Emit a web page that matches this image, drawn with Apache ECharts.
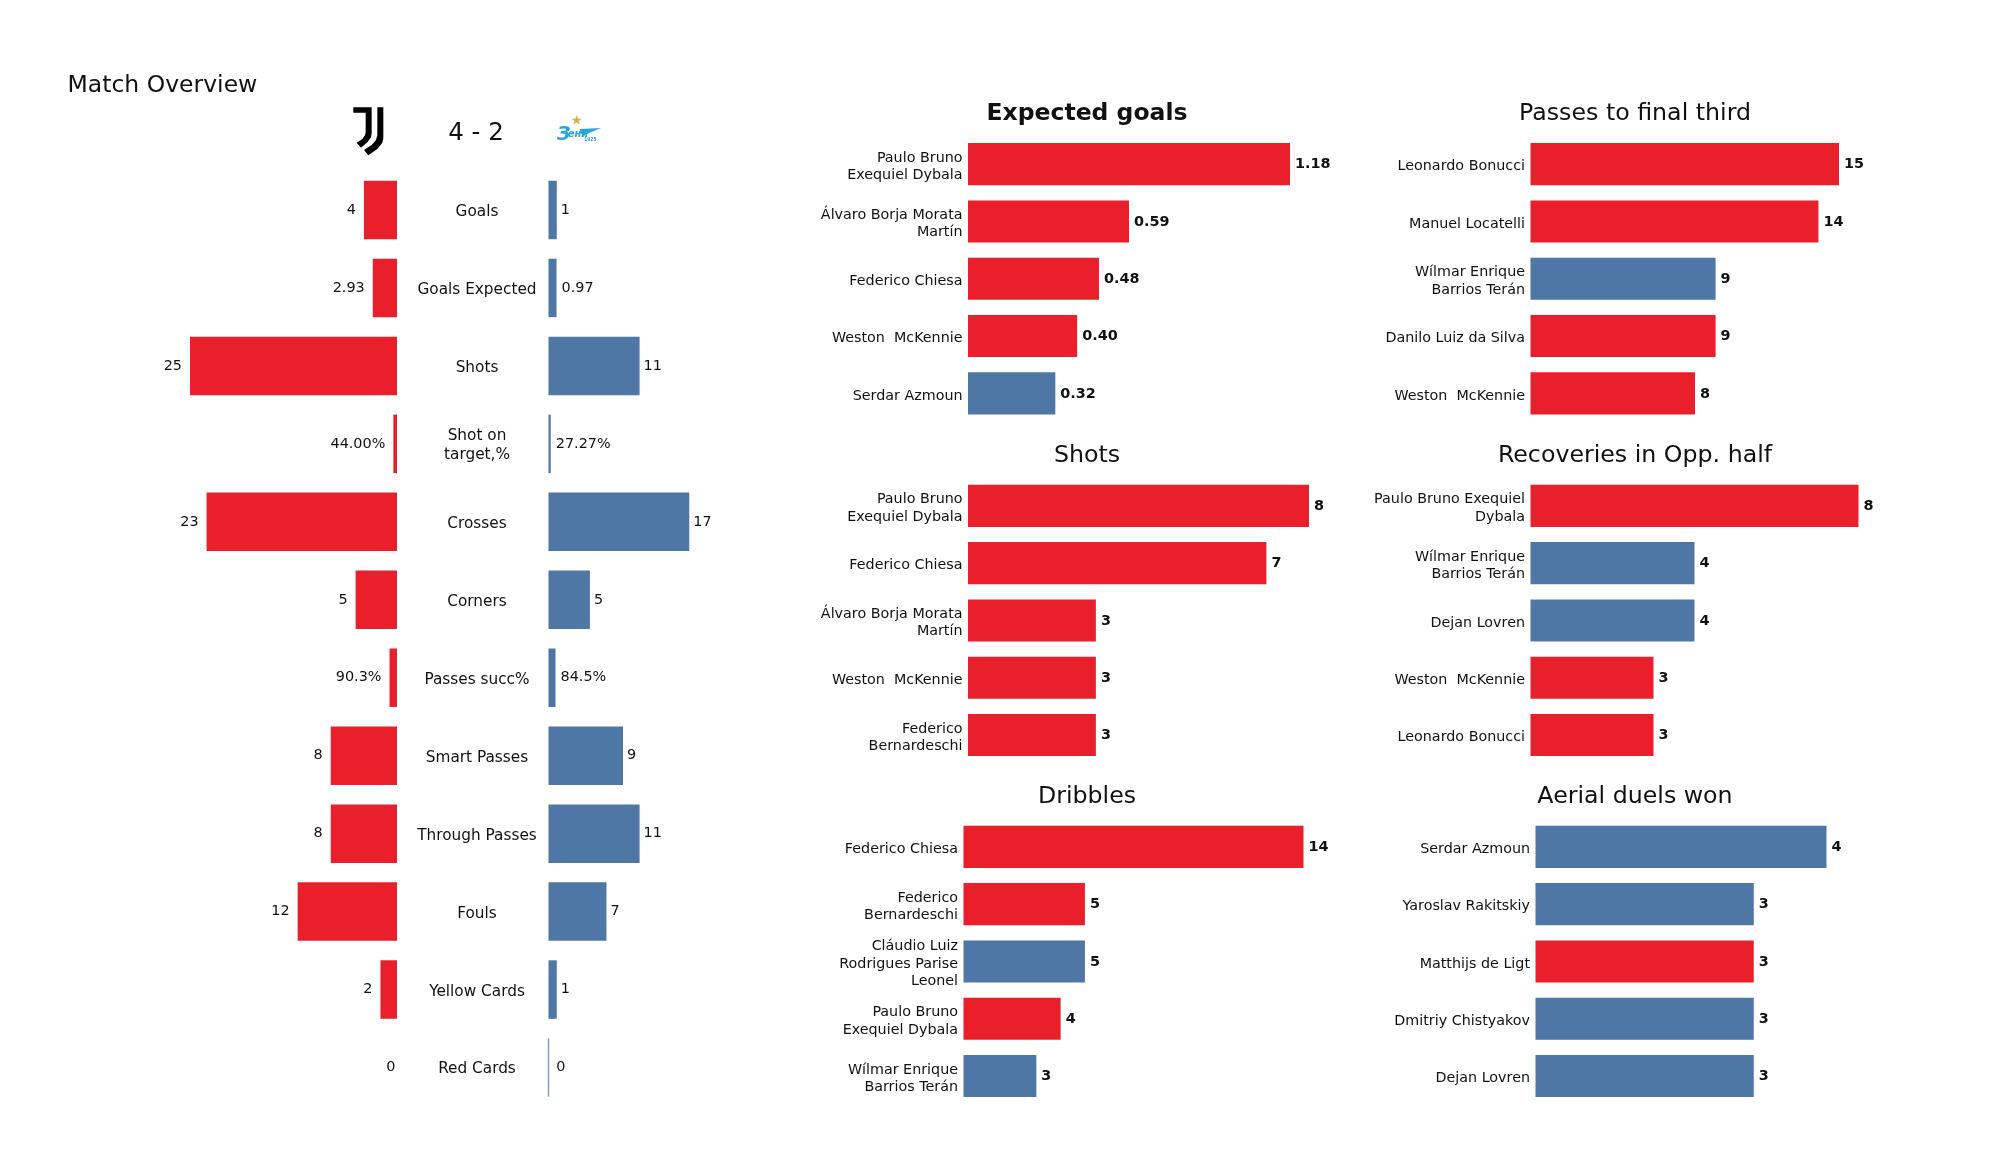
<!DOCTYPE html>
<html>
<head>
<meta charset="utf-8">
<style>html,body{margin:0;padding:0;background:#fff}#c{width:2000px;height:1175px}</style>
<script src="https://cdn.jsdelivr.net/npm/echarts@6/dist/echarts.min.js"></script>
</head>
<body>
<div id="c"></div>
<script>
const statLabels = ['Goals','Goals Expected','Shots','Shot on\ntarget,%','Crosses','Corners','Passes succ%','Smart Passes','Through Passes','Fouls','Yellow Cards','Red Cards'];
const juveValues = [4,2.93,25,0.44,23,5,0.903,8,8,12,2,0];
const zenitValues = [1,0.97,11,0.2727,17,5,0.845,9,11,7,1,0];
const juveText = ['4','2.93','25','44.00%','23','5','90.3%','8','8','12','2','0'];
const zenitText = ['1','0.97','11','27.27%','17','5','84.5%','9','11','7','1','0'];

const xgNames = ['Paulo Bruno\nExequiel Dybala','Álvaro Borja Morata\nMartín','Federico Chiesa','Weston  McKennie','Serdar Azmoun'];
const xgValues = [1.18,0.59,0.48,0.40,0.32];
const xgTeams = ['J','J','J','J','Z'];

const shotNames = ['Paulo Bruno\nExequiel Dybala','Federico Chiesa','Álvaro Borja Morata\nMartín','Weston  McKennie','Federico\nBernardeschi'];
const shotValues = [8,7,3,3,3];
const shotTeams = ['J','J','J','J','J'];

const dribbleNames = ['Federico Chiesa','Federico\nBernardeschi','Cláudio Luiz\nRodrigues Parise\nLeonel','Paulo Bruno\nExequiel Dybala','Wílmar Enrique\nBarrios Terán'];
const dribbleValues = [14,5,5,4,3];
const dribbleTeams = ['J','J','Z','J','Z'];

const passNames = ['Leonardo Bonucci','Manuel Locatelli','Wílmar Enrique\nBarrios Terán','Danilo Luiz da Silva','Weston  McKennie'];
const passValues = [15,14,9,9,8];
const passTeams = ['J','J','Z','J','J'];

const recoveryNames = ['Paulo Bruno Exequiel\nDybala','Wílmar Enrique\nBarrios Terán','Dejan Lovren','Weston  McKennie','Leonardo Bonucci'];
const recoveryValues = [8,4,4,3,3];
const recoveryTeams = ['J','Z','Z','J','J'];

const aerialNames = ['Serdar Azmoun','Yaroslav Rakitskiy','Matthijs de Ligt','Dmitriy Chistyakov','Dejan Lovren'];
const aerialValues = [4,3,3,3,3];
const aerialTeams = ['Z','Z','J','Z','Z'];

const RED = '#EA1F2C', BLUE = '#4E77A5', INK = '#111';
const FONT = '"DejaVu Sans"';
const colorOf = t => t === 'J' ? RED : BLUE;

const grids = [], xAxes = [], yAxes = [], series = [], titles = [];

function addGrid(box, maxV, inverse, cats, axisLabel) {
  const i = grids.length;
  grids.push(Object.assign({containLabel:false}, box));
  xAxes.push({gridIndex:i, type:'value', min:0, max:maxV, inverse:!!inverse, show:false});
  yAxes.push({gridIndex:i, type:'category', inverse:true, data:cats,
    axisLine:{show:false}, axisTick:{show:false}, splitLine:{show:false},
    axisLabel: axisLabel || {show:false}});
  return i;
}
// The category labels sit slightly below the bar centres, so they live on a
// second axis whose band is nudged down from the bars' one.
function addLabelAxis(box, cats, nudge, axisLabel) {
  const shifted = Object.assign({}, box, {top: box.top + nudge});
  addGrid(shifted, 1, false, cats, Object.assign({show:true}, axisLabel));
}

// Overview
const ovLeft = {left:190, top:171, width:207, height:935.5};
const ovRight = {left:548.5, top:171, width:207, height:935.5};
const iL = addGrid(ovLeft, 25, true, statLabels);
series.push({type:'bar', xAxisIndex:iL, yAxisIndex:iL, barWidth:'75%', silent:true,
  data: juveValues.map((v,k)=>({value:v, itemStyle:{color:RED},
    label:{show:true, position:'left', distance: v===0?1.5:8, offset:[0,0], formatter:juveText[k], color:INK, fontFamily:FONT, fontSize:14.4}}))});
const iR = addGrid(ovRight, 25, false, statLabels);
series.push({type:'bar', xAxisIndex:iR, yAxisIndex:iR, barWidth:'75%', silent:true,
  data: zenitValues.map((v,k)=>({value:v,
    itemStyle: v===0 ? {color:'#8A9DB8', borderColor:'#8A9DB8', borderWidth:1.5} : {color:BLUE},
    label:{show:true, position:'right', distance: v===0?7:(v<1?5:4), offset:[0,0], formatter:zenitText[k], color:INK, fontFamily:FONT, fontSize:14.4}}))});
addLabelAxis(ovRight, statLabels, 2, {align:'center', margin:71.5, color:INK, fontFamily:FONT, fontSize:15.3, lineHeight:19});

// Player panels
function panel(title, bold, cx, titleY, names, values, teams, left, top, width) {
  const maxV = Math.max.apply(null, values);
  const box = {left:left, top:top, width:width, height:286.5};
  const i = addGrid(box, maxV, false, names);
  series.push({type:'bar', xAxisIndex:i, yAxisIndex:i, barWidth:'73.5%', silent:true,
    data: values.map((v,k)=>({value:v, itemStyle:{color:colorOf(teams[k])}})),
    label:{show:true, position:'right', distance:5, offset:[0,0.5], color:INK, fontFamily:FONT, fontSize:14.4, fontWeight:'bold',
      formatter: p => title === 'Expected goals' ? p.value.toFixed(2) : String(p.value)}});
  addLabelAxis(box, names, 2.5, {margin:5.5, align:'right', color:INK, fontFamily:FONT, fontSize:14.3, lineHeight:17.5});
  titles.push({text:title, left:cx, top:titleY, padding:0, textAlign:'center', textVerticalAlign:'middle',
    textStyle:{color:INK, fontFamily:FONT, fontSize:bold?23.5:23.7, fontWeight:bold?'bold':'normal'}});
}
panel('Expected goals', true, 1087, 113.5, xgNames, xgValues, xgTeams, 968, 135.5, 322);
panel('Shots', false, 1087, 455.5, shotNames, shotValues, shotTeams, 968, 477.2, 341);
panel('Dribbles', false, 1087, 796.5, dribbleNames, dribbleValues, dribbleTeams, 963.5, 818.2, 340);
panel('Passes to final third', false, 1635, 113.5, passNames, passValues, passTeams, 1530.5, 135.5, 308.5);
panel('Recoveries in Opp. half', false, 1635, 455.5, recoveryNames, recoveryValues, recoveryTeams, 1530.5, 477.2, 328);
panel('Aerial duels won', false, 1635, 796.5, aerialNames, aerialValues, aerialTeams, 1535.5, 818.2, 291);

titles.push({text:'Match Overview', left:67.5, top:86, padding:0, textVerticalAlign:'middle',
  textStyle:{color:INK, fontFamily:FONT, fontSize:23.5, fontWeight:'normal'}});
titles.push({text:'4 - 2', left:476, top:133.5, padding:0, textAlign:'center', textVerticalAlign:'middle',
  textStyle:{color:INK, fontFamily:FONT, fontSize:24.5, fontWeight:'normal'}});

const graphic = [
  {type:'group', x:345, y:100, scaleX:1/3, scaleY:1/3, silent:true, children:[
    {type:'polygon', shape:{points:[[25,22],[80,22],[80,100],[78,112],[68,126],[48,143],[35,128],[52,117],[60,106],[62,95],[62,38],[25,38]]}, style:{fill:'#000'}},
    {type:'polygon', shape:{points:[[97,22],[115,22],[115,115],[112,128],[98,146],[70,166],[57,150],[80,135],[93,120],[97,105]]}, style:{fill:'#000'}}
  ]},
  {type:'group', x:545, y:105, scaleX:1/3, scaleY:1/3, silent:true, children:[
    {type:'polygon', shape:{points:[[95,30],[99,41],[110,41],[101,48],[105,59],[95,52],[85,59],[89,48],[80,41],[91,41]]}, style:{fill:'#D8B04A'}},
    {type:'polygon', shape:{points:[[104,72],[168,69],[118,90],[108,86]]}, style:{fill:'#2AA5D8'}},
    {type:'text', x:36, y:60, style:{text:'З', fill:'#2AA5D8', font:'italic bold 58px "DejaVu Sans"'}},
    {type:'text', x:68, y:72, style:{text:'ени', fill:'#2AA5D8', font:'italic bold 30px "DejaVu Sans"'}},
    {type:'text', x:118, y:98, style:{text:'1925', fill:'#3F9CC6', font:'bold 13px "DejaVu Sans"'}}
  ]}
];

const chart = echarts.init(document.getElementById('c'), null, {renderer:'canvas', width:2000, height:1175});
chart.setOption({animation:false, backgroundColor:'#fff', title:titles, grid:grids, xAxis:xAxes, yAxis:yAxes, series:series, graphic:graphic});
</script>
</body>
</html>
